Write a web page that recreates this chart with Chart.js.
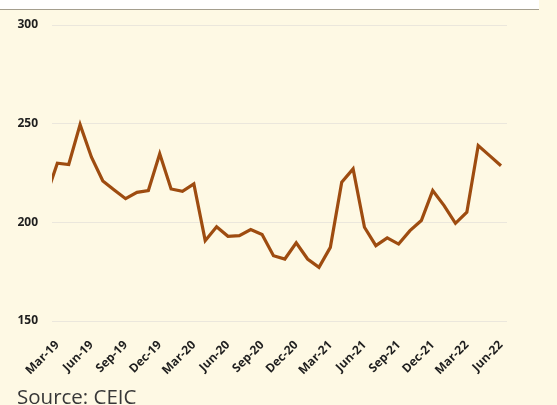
<!DOCTYPE html>
<html>
<head>
<meta charset="utf-8">
<script src="https://cdn.jsdelivr.net/npm/chart.js@4.4.0/dist/chart.umd.min.js"></script>
<style>
  html, body { margin: 0; padding: 0; }
  body { width: 557px; height: 405px; background: #fef9e4; position: relative; overflow: hidden; }
  #topband { position: absolute; left: 0; top: 0; width: 539px; height: 9px; background: #ffffff; border-bottom: 1.5px solid #a49e8e; }
  #wrap { position: absolute; left: 0; top: 0; width: 557px; height: 405px; }
  #source { position: absolute; left: 17px; top: 384px; font-family: "Open Sans", sans-serif; font-size: 20.5px; line-height: 24px; color: #383838; }
</style>
</head>
<body>
<div id="topband"></div>
<div id="wrap"><canvas id="chart"></canvas></div>
<div id="source">Source: CEIC</div>
<script>
// Meses de Feb-19 a Jun-22 (el primero queda recortado a la izquierda)
const months = [
  "Feb-19", "Mar-19", "Apr-19", "May-19", "Jun-19", "Jul-19", "Aug-19", "Sep-19", "Oct-19", "Nov-19", "Dec-19",
  "Jan-20", "Feb-20", "Mar-20", "Apr-20", "May-20", "Jun-20", "Jul-20", "Aug-20", "Sep-20", "Oct-20", "Nov-20", "Dec-20",
  "Jan-21", "Feb-21", "Mar-21", "Apr-21", "May-21", "Jun-21", "Jul-21", "Aug-21", "Sep-21", "Oct-21", "Nov-21", "Dec-21",
  "Jan-22", "Feb-22", "Mar-22", "Apr-22", "May-22", "Jun-22"
];
const values = [
  213, 230, 229.3, 249.5, 233, 221, 216.4, 212, 215.2, 216.1, 234.7,
  216.9, 215.7, 219.5, 190.7, 197.8, 192.9, 193.3, 196.3, 193.8, 183.1, 181.4, 189.6,
  181.4, 177.2, 187.3, 220.3, 227.1, 197.5, 188.2, 192.1, 189, 195.8, 200.9, 216.1,
  208.5, 199.5, 205.1, 238.9, 233.8, 228.7
];
const tickMonths = ["Mar-19", "Jun-19", "Sep-19", "Dec-19", "Mar-20", "Jun-20", "Sep-20", "Dec-20",
  "Mar-21", "Jun-21", "Sep-21", "Dec-21", "Mar-22", "Jun-22"];
const yTicks = [150, 200, 250, 300];

const points = values.map((v, i) => ({ x: i, y: v }));

new Chart(document.getElementById("chart"), {
  type: "line",
  data: {
    datasets: [{
      data: points,
      borderColor: "#9e4c10",
      borderWidth: 3.2,
      pointRadius: 0,
      tension: 0,
      clip: 0
    }]
  },
  options: {
    responsive: true,
    maintainAspectRatio: false,
    animation: false,
    layout: { padding: { top: 25, right: 50, left: 0, bottom: 30 } },
    plugins: { legend: { display: false }, tooltip: { enabled: false } },
    scales: {
      x: {
        type: "linear",
        min: 0.53,
        max: 40.53,
        afterBuildTicks: (axis) => {
          axis.ticks = tickMonths.map(m => ({ value: months.indexOf(m) }));
        },
        afterFit: (s) => { s.height = 54; },
        grid: { display: false },
        border: { display: false },
        ticks: {
          autoSkip: false,
          maxRotation: 45,
          minRotation: 45,
          padding: 9,
          color: "#1e1e1e",
          font: { family: "Open Sans", size: 12, weight: "bold" },
          callback: (value) => months[value]
        }
      },
      y: {
        min: 150,
        max: 300,
        afterBuildTicks: (axis) => {
          axis.ticks = yTicks.map(v => ({ value: v }));
        },
        afterFit: (s) => { s.width = 52; },
        grid: { color: "#ebe7dc", lineWidth: 1, drawTicks: false },
        border: { display: false },
        ticks: {
          padding: 14,
          color: "#1e1e1e",
          font: { family: "Open Sans", size: 12, weight: "bold" }
        }
      }
    }
  }
});
</script>
</body>
</html>
